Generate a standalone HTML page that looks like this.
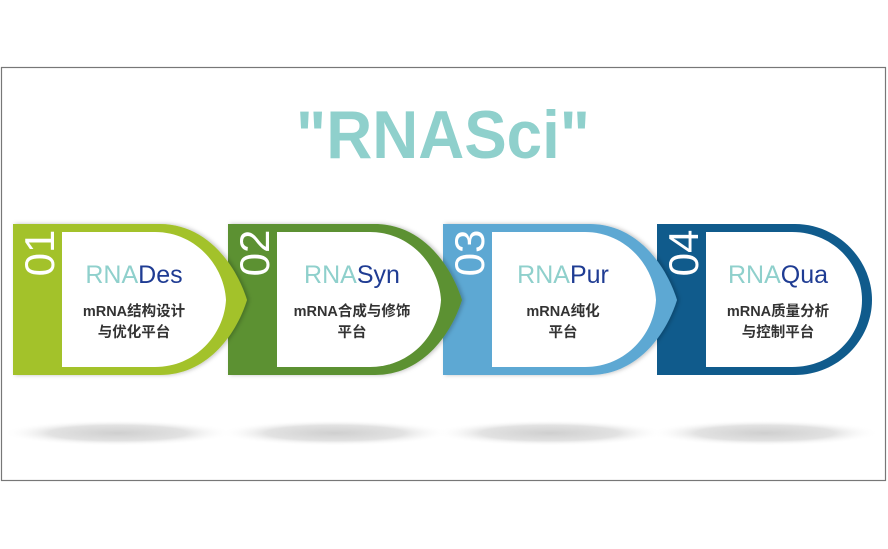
<!DOCTYPE html>
<html><head><meta charset="utf-8"><style>
html,body{margin:0;padding:0;background:#fff;}
svg{display:block;}
</style></head><body>
<svg width="888" height="549" viewBox="0 0 888 549" xmlns="http://www.w3.org/2000/svg">
<defs>
<radialGradient id="sh" cx="50%" cy="50%" r="50%">
<stop offset="0" stop-color="#cfcfcf"/><stop offset="0.6" stop-color="#e2e2e2"/><stop offset="1" stop-color="#fff" stop-opacity="0"/>
</radialGradient>
<filter id="ds" x="-10%" y="-10%" width="130%" height="130%">
<feDropShadow dx="2" dy="0" stdDeviation="2" flood-color="#000" flood-opacity="0.25"/>
</filter>
</defs>
<rect x="1.5" y="67.5" width="884" height="413" fill="#fff" stroke="#777" stroke-width="1.2"/>
<text x="443" y="158" text-anchor="middle" font-family="Liberation Sans, sans-serif" font-weight="bold" font-size="68" fill="#8fd0cc" textLength="294" lengthAdjust="spacingAndGlyphs">"RNASci"</text>

<g>
<ellipse cx="118" cy="433" rx="115" ry="13" fill="url(#sh)"/>
<ellipse cx="335" cy="433" rx="115" ry="13" fill="url(#sh)"/>
<ellipse cx="550" cy="433" rx="115" ry="13" fill="url(#sh)"/>
<ellipse cx="765" cy="433" rx="115" ry="13" fill="url(#sh)"/>
</g>

<g>
<path d="M657,224 H795 C838,224 872,260 872,300 C872,340 838,375 795,375 H657 Z" fill="#105b8c"/>
<path d="M706,232 H792 C832,232 862,263 862,300 C862,337 832,367 792,367 H706 Z" fill="#fff"/>
</g>
<g transform="translate(430,0)">
<path filter="url(#ds)" d="M13,224 H160 C205,224 235,262 247,300 C235,338 205,375 160,375 H13 Z" fill="#5da8d3"/>
<path d="M62,232 H155 C195,232 224,265 226,300 C224,335 195,367 155,367 H62 Z" fill="#fff"/>
</g>
<g transform="translate(215,0)">
<path filter="url(#ds)" d="M13,224 H160 C205,224 235,262 247,300 C235,338 205,375 160,375 H13 Z" fill="#5b9133"/>
<path d="M62,232 H155 C195,232 224,265 226,300 C224,335 195,367 155,367 H62 Z" fill="#fff"/>
</g>
<g>
<path filter="url(#ds)" d="M13,224 H160 C205,224 235,262 247,300 C235,338 205,375 160,375 H13 Z" fill="#a3c22b"/>
<path d="M62,232 H155 C195,232 224,265 226,300 C224,335 195,367 155,367 H62 Z" fill="#fff"/>
</g>

<g font-family="Liberation Sans, sans-serif" font-size="42" fill="#fff">
<text transform="translate(54,253) rotate(-90)" text-anchor="middle">01</text>
<text transform="translate(269,253) rotate(-90)" text-anchor="middle">02</text>
<text transform="translate(484,253) rotate(-90)" text-anchor="middle">03</text>
<text transform="translate(698,253) rotate(-90)" text-anchor="middle">04</text>
</g>

<g font-family="Liberation Sans, sans-serif" font-size="25" text-anchor="middle">
<text x="134" y="283"><tspan fill="#8fd0cc">RNA</tspan><tspan fill="#1f3c93">Des</tspan></text>
<text x="352" y="283"><tspan fill="#8fd0cc">RNA</tspan><tspan fill="#1f3c93">Syn</tspan></text>
<text x="563" y="283"><tspan fill="#8fd0cc">RNA</tspan><tspan fill="#1f3c93">Pur</tspan></text>
<text x="778" y="283"><tspan fill="#8fd0cc">RNA</tspan><tspan fill="#1f3c93">Qua</tspan></text>
</g>
<g font-family="Liberation Sans, Noto Sans CJK SC, sans-serif" font-size="14.5" font-weight="bold" fill="#333" text-anchor="middle">
<text x="134" y="316">mRNA结构设计</text>
<text x="134" y="337">与优化平台</text>
<text x="352" y="316">mRNA合成与修饰</text>
<text x="352" y="337">平台</text>
<text x="563" y="316">mRNA纯化</text>
<text x="563" y="337">平台</text>
<text x="778" y="316">mRNA质量分析</text>
<text x="778" y="337">与控制平台</text>
</g>
</svg>
</body></html>
